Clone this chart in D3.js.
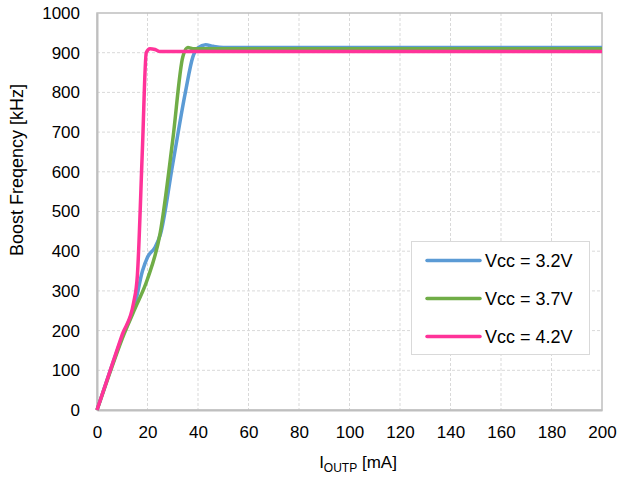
<!DOCTYPE html>
<html><head><meta charset="utf-8">
<script src="https://cdn.jsdelivr.net/npm/d3@7"></script>
<style>body{margin:0;background:#fff}svg{display:block;font-family:"Liberation Sans",Arial,sans-serif}</style>
</head><body><svg id="c" width="619" height="477"></svg>
<script>
const xTicks = [0,20,40,60,80,100,120,140,160,180,200];
const yTicks = [0,100,200,300,400,500,600,700,800,900,1000];
const seriesNames = ["Vcc = 3.2V","Vcc = 3.7V","Vcc = 4.2V"];
const seriesColors = ["#5b9bd5","#70ad47","#ff3399"];
const x32 = [0,5,10,15,18,20,23,25,30,35,38,40,43,46,50,100,200];
const y32 = [0,95,185,265,350,385,410,440,620,800,890,912,920,916,913,913,913];
const x37 = [0,5,10,15,20,25,30,34,36,38,40,50,100,200];
const y37 = [0,92,180,255,330,445,680,890,913,910,910,910,910,910];
const x42 = [0,5,10,14.5,16,18,19.5,21,23,25,30,100,200];
const y42 = [0,95,190,270,340,660,900,910,908,903,903,903,903];

const svg = d3.select("#c");
const m = {l:97, r:602, t:13, b:410};
const x = d3.scaleLinear().domain([0,200]).range([m.l, m.r]);
const y = d3.scaleLinear().domain([0,1000]).range([m.b, m.t]);
const FF = "Liberation Sans, Arial, sans-serif";

// gridlines
svg.append("g").selectAll("line").data(xTicks.slice(1,-1)).join("line")
  .attr("x1",d=>x(d)).attr("x2",d=>x(d)).attr("y1",m.t).attr("y2",m.b)
  .attr("stroke","#d9d9d9").attr("stroke-dasharray","3,2").attr("stroke-width",1);
svg.append("g").selectAll("line").data(yTicks.slice(1,-1)).join("line")
  .attr("y1",d=>y(d)).attr("y2",d=>y(d)).attr("x1",m.l).attr("x2",m.r)
  .attr("stroke","#d9d9d9").attr("stroke-dasharray","3,2").attr("stroke-width",1);
// border
svg.append("rect").attr("x",m.l).attr("y",m.t).attr("width",m.r-m.l).attr("height",m.b-m.t)
  .attr("fill","none").attr("stroke","#bfbfbf").attr("stroke-width",1.5);

// axes
const xa = svg.append("g").attr("transform",`translate(0,${m.b})`)
  .call(d3.axisBottom(x).tickValues(xTicks).tickFormat(d3.format("d")).tickSize(0).tickPadding(16));
xa.select(".domain").attr("stroke","#bfbfbf").attr("stroke-width",2);
xa.selectAll("text").attr("font-size",17).attr("fill","#000").attr("font-family",FF);
const ya = svg.append("g").attr("transform",`translate(${m.l},0)`)
  .call(d3.axisLeft(y).tickValues(yTicks).tickFormat(d3.format("d")).tickSize(0).tickPadding(17));
ya.select(".domain").attr("stroke","#bfbfbf").attr("stroke-width",2);
ya.selectAll("text").attr("font-size",17).attr("fill","#000").attr("font-family",FF);

// titles
const xt = svg.append("text").attr("x",358).attr("y",468).attr("text-anchor","middle").attr("font-size",17).attr("fill","#000");
xt.append("tspan").text("I");
xt.append("tspan").attr("font-size",12).attr("dy",4).text("OUTP");
xt.append("tspan").attr("dy",-4).text(" [mA]");
svg.append("text").attr("transform","translate(23,170) rotate(-90)").attr("text-anchor","middle")
  .attr("font-size",18).attr("fill","#000").text("Boost Freqency [kHz]");

// lines
const data = [[x32,y32],[x37,y37],[x42,y42]];
const line = d3.line().x(d=>x(d[0])).y(d=>y(d[1])).curve(d3.curveMonotoneX);
data.forEach((s,i)=>{
  const pts = s[0].map((v,j)=>[v,s[1][j]]);
  svg.append("path").attr("d",line(pts)).attr("fill","none")
    .attr("stroke",seriesColors[i]).attr("stroke-width",3.5).attr("stroke-linejoin","round");
});

// legend
const lg = svg.append("g");
lg.append("rect").attr("x",411.5).attr("y",241.5).attr("width",178).attr("height",113)
  .attr("fill","#fff").attr("stroke","#d9d9d9").attr("stroke-width",1);
seriesNames.forEach((n,i)=>{
  const yy = 260.5 + i*38;
  lg.append("line").attr("x1",427).attr("x2",480).attr("y1",yy).attr("y2",yy)
    .attr("stroke",seriesColors[i]).attr("stroke-width",3.5).attr("stroke-linecap","round");
  lg.append("text").attr("x",485).attr("y",yy+6.5).attr("font-size",18).attr("fill","#000").text(n);
});
</script></body></html>
